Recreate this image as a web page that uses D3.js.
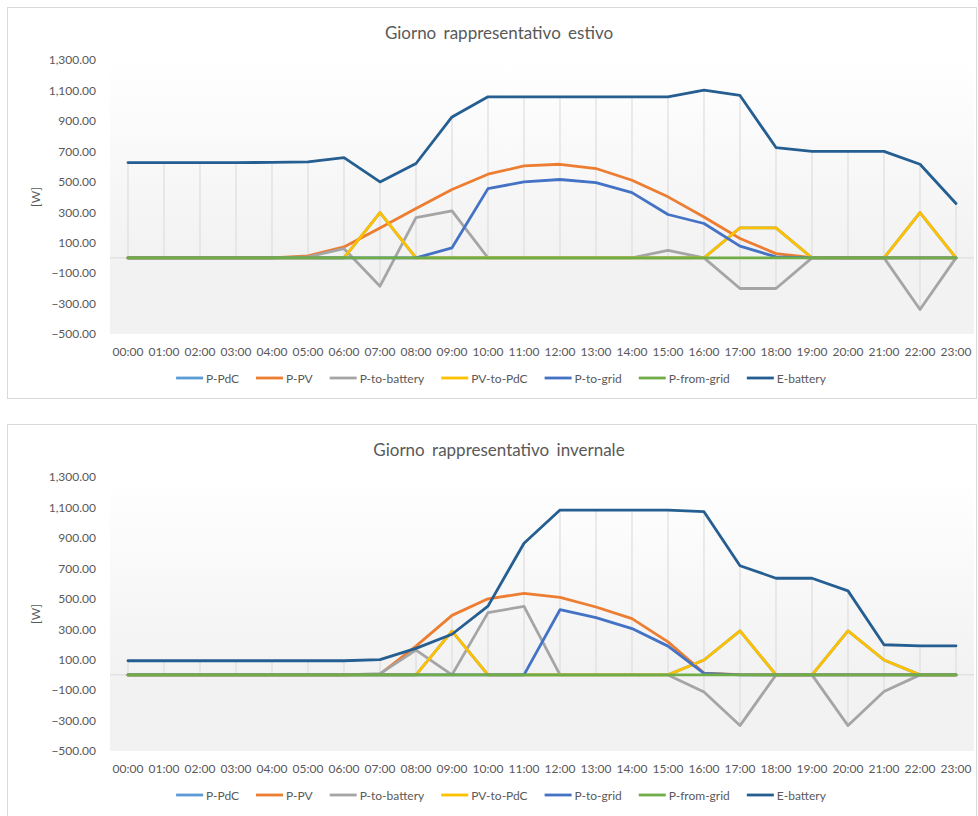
<!DOCTYPE html>
<html>
<head>
<meta charset="utf-8">
<script src="https://cdn.jsdelivr.net/npm/d3@7"></script>
<style>
  html, body { margin: 0; padding: 0; background: #ffffff; }
  svg { display: block; font-family: Lato, "Open Sans", sans-serif; }
</style>
</head>
<body>
<svg id="chart" width="978" height="816"></svg>
<script>
// Hour categories and value axis ticks
const hours = ["00:00","01:00","02:00","03:00","04:00","05:00","06:00","07:00","08:00","09:00","10:00","11:00",
               "12:00","13:00","14:00","15:00","16:00","17:00","18:00","19:00","20:00","21:00","22:00","23:00"];
const yTicks = [1300, 1100, 900, 700, 500, 300, 100, -100, -300, -500];

const seriesNames  = ["P-PdC", "P-PV", "P-to-battery", "PV-to-PdC", "P-to-grid", "P-from-grid", "E-battery"];
const seriesColors = ["#5B9BD5", "#ED7D31", "#A5A5A5", "#FFC000", "#4472C4", "#70AD47", "#255E91"];

// Summer representative day [W]
const summerPdC       = [0,0,0,0,0,0,0,298,0,0,0,0,0,0,0,0,0,197,197,0,0,0,298,0];
const summerPV        = [0,0,0,0,0,13,72,197,324,449,550,604,615,587,510,401,269,127,28,2,0,0,0,0];
const summerToBattery = [0,0,0,0,0,7,61,-186,265,309,0,0,0,0,0,50,0,-201,-201,0,0,0,-339,0];
const summerPVtoPdC   = [0,0,0,0,0,0,0,298,0,0,0,0,0,0,0,0,0,197,197,0,0,0,298,0];
const summerToGrid    = [0,0,0,0,0,0,0,0,0,66,455,499,515,495,429,285,226,77,7,0,0,0,0,0];
const summerFromGrid  = [0,0,0,0,0,0,0,0,0,0,0,0,0,0,0,0,0,0,0,0,0,0,0,0];
const summerBattery   = [626,626,626,626,627,631,659,499,620,926,1058,1058,1058,1058,1058,1058,1102,1067,725,700,700,700,615,357];

// Winter representative day [W]
const winterPdC       = [0,0,0,0,0,0,0,0,0,287,0,0,0,0,0,0,98,289,0,0,289,98,0,0];
const winterPV        = [0,0,0,0,0,0,0,5,189,391,500,535,509,446,370,217,12,2,0,0,0,0,0,0];
const winterToBattery = [0,0,0,0,0,0,0,8,163,0,409,450,0,0,0,0,-113,-333,0,0,-333,-109,0,0];
const winterPVtoPdC   = [0,0,0,0,0,0,0,0,0,287,0,0,0,0,0,0,98,289,0,0,289,98,0,0];
const winterToGrid    = [0,0,0,0,0,0,0,0,0,0,0,0,428,376,304,189,10,0,0,0,0,0,0,0];
const winterFromGrid  = [0,0,0,0,0,0,0,0,0,0,0,0,0,0,0,0,0,0,0,0,0,0,0,0];
const winterBattery   = [93,93,93,93,93,93,93,100,174,267,452,865,1083,1083,1083,1083,1072,717,635,635,552,198,191,191];

const charts = [
  { title: "Giorno rappresentativo estivo", top: 7,
    series: [summerPdC, summerPV, summerToBattery, summerPVtoPdC, summerToGrid, summerFromGrid, summerBattery] },
  { title: "Giorno rappresentativo invernale", top: 424,
    series: [winterPdC, winterPV, winterToBattery, winterPVtoPdC, winterToGrid, winterFromGrid, winterBattery] }
];

const svg = d3.select("#chart");
const textColor = "#595959";
const gridColor = "#d9d9d9";

const defs = svg.append("defs");
const grad = defs.append("linearGradient").attr("id", "plotFill")
  .attr("x1", 0).attr("y1", 0).attr("x2", 0).attr("y2", 1);
grad.append("stop").attr("offset", "0%").attr("stop-color", "#ffffff");
grad.append("stop").attr("offset", "72%").attr("stop-color", "#f2f2f2");
grad.append("stop").attr("offset", "100%").attr("stop-color", "#f2f2f2");

charts.forEach((c, ci) => {
  const t = c.top;
  const g = svg.append("g");

  // chart frame
  g.append("rect")
    .attr("x", 7.5).attr("y", t + 0.5)
    .attr("width", 969).attr("height", ci === 0 ? 391 : 400)
    .attr("fill", "#ffffff").attr("stroke", gridColor);

  const plotTop = t + 53, plotBottom = t + 327;
  const x = d3.scaleBand().domain(hours).range([110, 974]);
  const xc = h => x(h) + x.bandwidth() / 2;
  const y = d3.scaleLinear().domain([-500, 1300]).range([plotBottom, plotTop]);

  // plot area background
  g.append("rect")
    .attr("x", 110).attr("y", plotTop)
    .attr("width", 864).attr("height", plotBottom - plotTop)
    .attr("fill", "url(#plotFill)");

  // title
  g.append("text")
    .attr("x", 499).attr("y", t + 25)
    .attr("text-anchor", "middle").attr("dominant-baseline", "central")
    .attr("fill", textColor).attr("font-size", 17).attr("word-spacing", 3)
    .text(c.title);

  // value axis
  const yAxis = g.append("g").attr("transform", "translate(110,0)")
    .call(d3.axisLeft(y).tickValues(yTicks).tickFormat(d3.format(",.2f")).tickSize(0).tickPadding(14));
  yAxis.select(".domain").remove();
  yAxis.selectAll("text").attr("fill", textColor).attr("font-size", 12).attr("font-family", "Lato, sans-serif");

  g.append("text")
    .attr("transform", `translate(35,${t + 190}) rotate(-90)`)
    .attr("text-anchor", "middle").attr("dominant-baseline", "central")
    .attr("fill", textColor).attr("font-size", 12)
    .text("[W]");

  // category axis labels
  const xAxis = g.append("g").attr("transform", `translate(0,${plotBottom})`)
    .call(d3.axisBottom(x).tickSize(0).tickPadding(13));
  xAxis.select(".domain").remove();
  xAxis.selectAll("text").attr("fill", textColor).attr("font-size", 12).attr("font-family", "Lato, sans-serif");

  // drop lines spanning all series at each hour
  const drops = hours.map((h, i) => {
    const vals = c.series.map(s => s[i]);
    return { h, hi: d3.max(vals), lo: Math.min(0, d3.min(vals)) };
  });
  g.append("g").selectAll("line").data(drops).join("line")
    .attr("x1", d => xc(d.h)).attr("x2", d => xc(d.h))
    .attr("y1", d => y(d.hi)).attr("y2", d => y(d.lo))
    .attr("stroke", gridColor).attr("stroke-width", 1);

  // horizontal axis line at zero
  g.append("line")
    .attr("x1", 110).attr("x2", 974)
    .attr("y1", y(0)).attr("y2", y(0))
    .attr("stroke", gridColor).attr("stroke-width", 1);

  // series lines
  const line = d3.line().x((d, i) => xc(hours[i])).y(d => y(d));
  c.series.forEach((s, si) => {
    g.append("path").datum(s)
      .attr("d", line)
      .attr("fill", "none")
      .attr("stroke", seriesColors[si])
      .attr("stroke-width", 2.8)
      .attr("stroke-linejoin", "round")
      .attr("stroke-linecap", "round");
  });

  // legend
  const legY = t + 371;
  const leg = g.append("g");
  const items = seriesNames.map((name, si) => {
    const it = leg.append("g");
    it.append("line").attr("x1", 0).attr("x2", 27).attr("y1", 0).attr("y2", 0)
      .attr("stroke", seriesColors[si]).attr("stroke-width", 2.8);
    const tx = it.append("text").attr("x", 30).attr("y", 0)
      .attr("dominant-baseline", "central")
      .attr("fill", textColor).attr("font-size", 12).text(name);
    return { it, w: 30 + tx.node().getComputedTextLength() };
  });
  const gap = 17;
  const total = d3.sum(items, d => d.w) + gap * (items.length - 1);
  let cx = 501 - total / 2;
  items.forEach(d => {
    d.it.attr("transform", `translate(${cx},${legY})`);
    cx += d.w + gap;
  });
});
</script>
</body>
</html>
